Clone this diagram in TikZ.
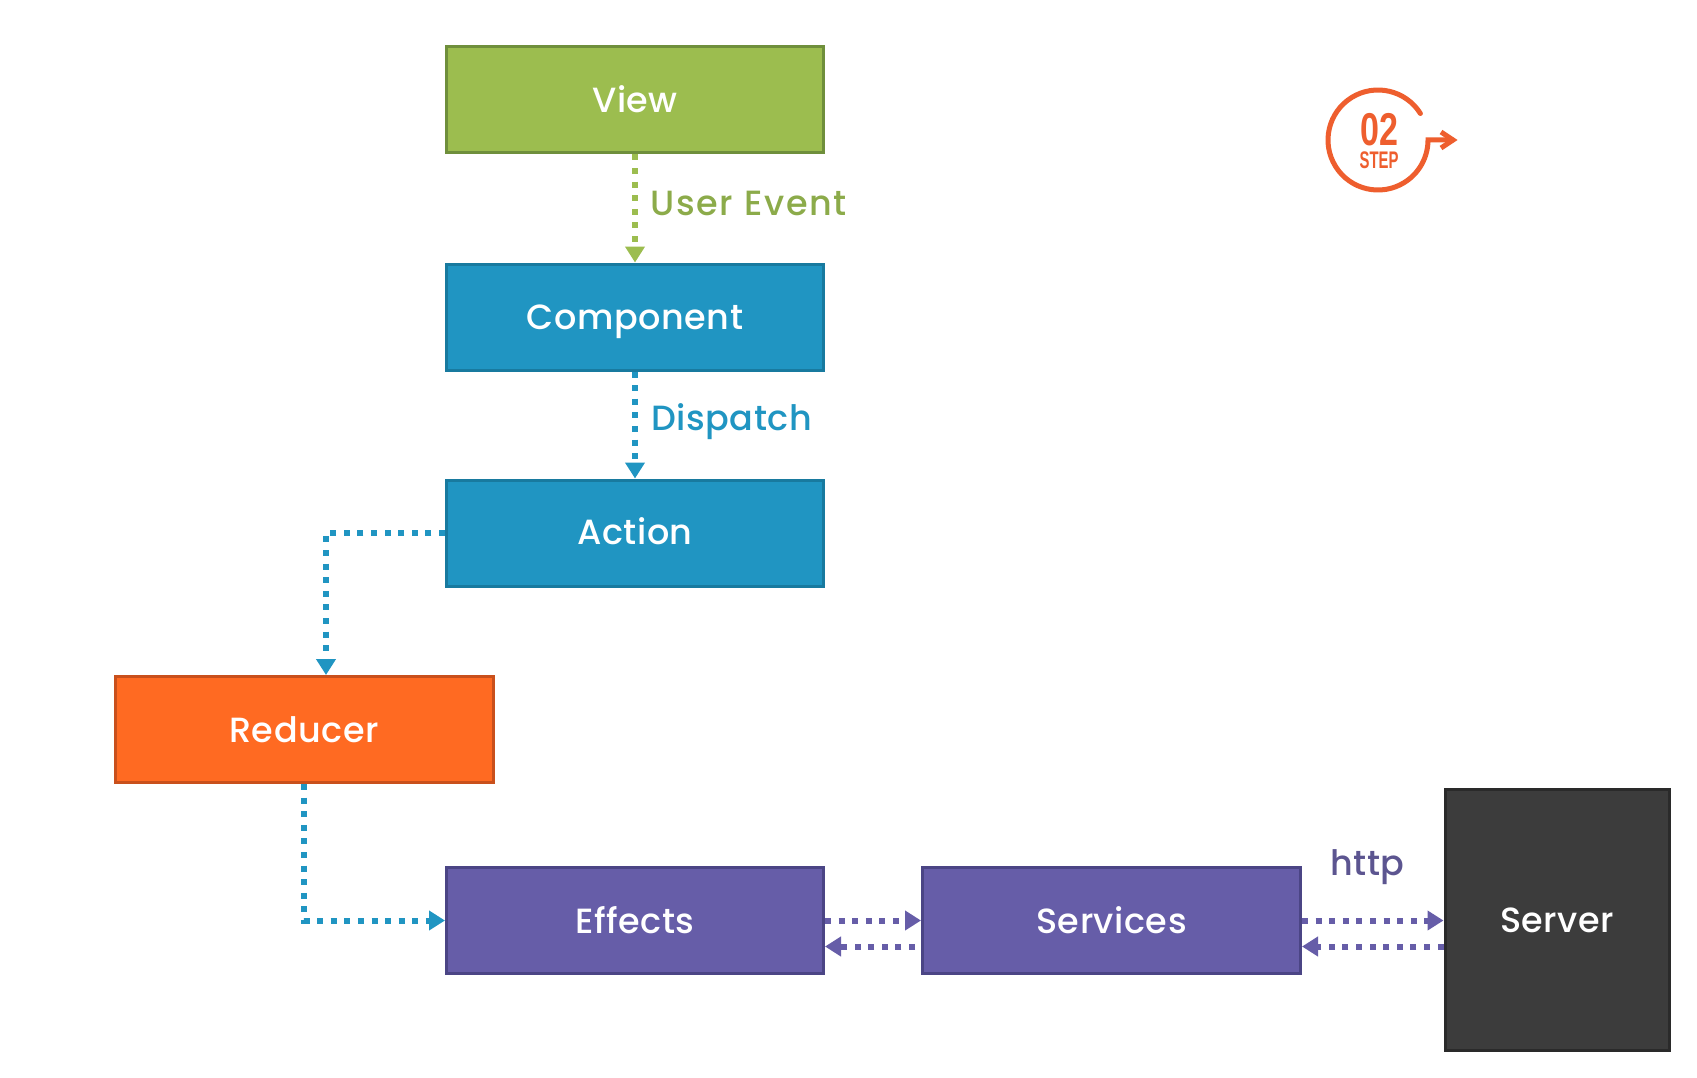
\documentclass[tikz,border=0pt]{standalone}
\usepackage{graphicx}
\usepackage{fontspec}
\setmainfont{Poppins Medium}[LetterSpace=1.5]
\newfontfamily\logofont{Liberation Sans}
\usetikzlibrary{arrows.meta,calc}
\definecolor{cgreen}{HTML}{9CBD4F}
\definecolor{cgreenb}{HTML}{6F8F3C}
\definecolor{cgreent}{HTML}{8CAB4A}
\definecolor{cblue}{HTML}{2095C2}
\definecolor{cblueb}{HTML}{187A9F}
\definecolor{corange}{HTML}{FF6A22}
\definecolor{corangeb}{HTML}{C9501C}
\definecolor{cpurple}{HTML}{665DA8}
\definecolor{cpurpleb}{HTML}{4B4585}
\definecolor{cpurplet}{HTML}{5C5590}
\definecolor{cdark}{HTML}{3C3C3C}
\definecolor{cdarkb}{HTML}{2A2A2A}
\definecolor{clogo}{HTML}{EE5E2E}
\tikzset{
  boxnode/.style={draw=#1b,fill=#1,line width=3pt,minimum width=377pt,minimum height=106pt,inner sep=0pt,
    text=white,font=\fontsize{35}{38}\selectfont,text height=25pt,text depth=0pt,anchor=center},
  dotline/.style={draw=#1,line width=6pt,dash pattern=on 6pt off 7.6pt,
    -{Triangle[length=16pt,width=19pt,fill=#1]}},
  lbl/.style={font=\fontsize{35}{38}\selectfont,text height=25pt,text depth=0pt,anchor=west,inner sep=0pt},
  logoline/.style={draw=clogo,line width=5pt,line join=miter},
  logotext/.style={text=clogo,inner sep=0pt,align=center}
}
\begin{document}
\begin{tikzpicture}[x=1pt,y=-1pt]
\useasboundingbox[fill=white] (0,0) rectangle (1697,1078);
\node[boxnode=cgreen]  (view)      at (635,100) {View};
\node[boxnode=cblue]   (component) at (635,317) {Component};
\node[boxnode=cblue]   (action)    at (635,533) {\raisebox{1pt}{Action}};
\node[boxnode=corange,minimum width=378pt] (reducer) at (304,729.5) {Reducer};
\node[boxnode=cpurple] (effects)   at (635,920.5) {Effects};
\node[boxnode=cpurple,minimum width=378pt] (services) at (1111.5,920.5) {Services};
\node[boxnode=cdark,minimum width=224pt,minimum height=261pt] (server) at (1557,920) {Server};

\draw[dotline=cgreen] (view) -- (component);
\draw[dotline=cblue] (component) -- (action);
\draw[dotline=cblue] (action.west) -| ([xshift=22pt]reducer.north);
\draw[dotline=cblue] (reducer.south) |- (effects.west);
\draw[dotline=cpurple] (effects.east) -- (services.west);
\draw[dotline=cpurple] ([xshift=-6pt,yshift=-26pt]services.west) -- ([yshift=-26pt]effects.east);
\draw[dotline=cpurple] (services.east) -- (services.east -| server.west);
\draw[dotline=cpurple] ([yshift=-26pt]services.east -| server.west) -- ([yshift=-26pt]services.east);

\node[lbl,text=cgreent] (lblevent) at (650,203) {\addfontfeature{LetterSpace=5}User Event};
\node[lbl,text=cblue] (lbldispatch) at (651,418) {Dispatch};
\node[lbl,text=cpurplet] (lblhttp) at (1330,863) {http};

% step logo
\coordinate (logoc) at (1378,140);
\draw[logoline,line cap=round] ($(logoc)+(32:50pt)$) arc[start angle=32,end angle=360,radius=50pt] -- ++(25pt,0pt);
\draw[logoline] ($(logoc)+(63pt,8pt)$) -- ($(logoc)+(75pt,0pt)$) -- ($(logoc)+(63pt,-8pt)$);
\node[logotext,font=\logofont\bfseries\fontsize{24}{23}\selectfont] (logotxt) at (1379,141.5)
  {\scalebox{.74}[1]{\fontsize{46}{46}\selectfont 02}\\\scalebox{.62}[1]{STEP}};
\end{tikzpicture}
\end{document}
